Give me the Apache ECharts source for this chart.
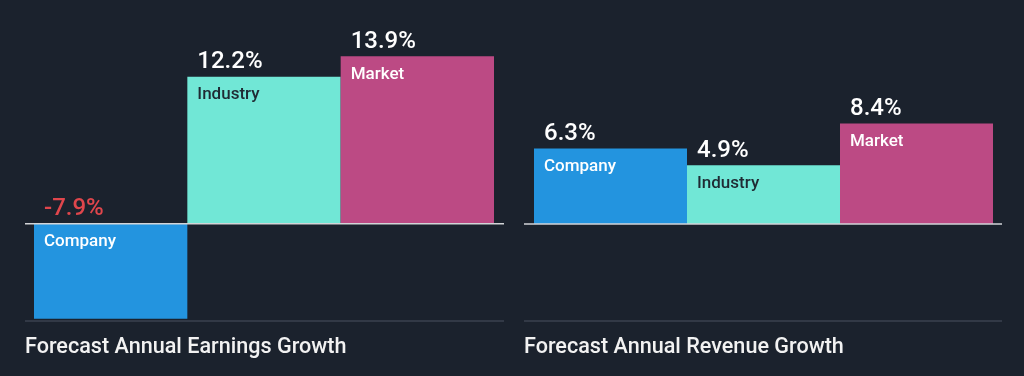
<!DOCTYPE html>
<html>
<head>
<meta charset="utf-8">
<script src="https://cdn.jsdelivr.net/npm/echarts@6/dist/echarts.min.js"></script>
<style>
  html, body { margin: 0; padding: 0; background: #1b222d; }
  #chart { width: 1024px; height: 376px; }
</style>
</head>
<body>
<div id="chart"></div>
<script>
// data
const categories = ["Company", "Industry", "Market"];
const earningsGrowth = [-7.9, 12.2, 13.9];
const revenueGrowth = [6.3, 4.9, 8.4];
const panelTitles = ["Forecast Annual Earnings Growth", "Forecast Annual Revenue Growth"];

const barColors = ["#2394df", "#71e7d6", "#bc4a84"];
const FONT = "Roboto";

function makeData(values) {
  return values.map((v, i) => ({
    value: v,
    itemStyle: { color: barColors[i] },
  }));
}

const labelCfg = {
  show: true,
  position: "insideTopLeft",
  distance: 10,
  offset: [0, -41],
  align: "left",
  formatter: function (p) {
    const valStyle = p.value < 0 ? "neg" : "val";
    const nameStyle = p.name === "Industry" ? "dark" : "light";
    return "{" + valStyle + "|" + p.value.toFixed(1) + "%}\n{" + nameStyle + "|" + p.name + "}";
  },
  rich: {
    val: { fontFamily: FONT, fontSize: 24, fontWeight: 500, color: "#ffffff", lineHeight: 33 },
    neg: { fontFamily: FONT, fontSize: 24, fontWeight: 500, color: "#e0464c", lineHeight: 33 },
    light: { fontFamily: FONT, fontSize: 17, fontWeight: 500, color: "#ffffff", lineHeight: 33 },
    dark: { fontFamily: FONT, fontSize: 17, fontWeight: 500, color: "#1f2a33", lineHeight: 33 },
  },
};

const chart = echarts.init(document.getElementById("chart"), null, { renderer: "canvas" });

const option = {
  backgroundColor: "#1b222d",
  animation: false,
  title: panelTitles.map((t, i) => ({
    text: t,
    left: i === 0 ? 25 : 524,
    top: 337,
    padding: 0,
    textStyle: { fontFamily: FONT, fontSize: 21.6, fontWeight: 500, color: "#f2f2f2" },
  })),
  grid: [
    { left: 34, width: 460, top: 55, bottom: 56 },
    { left: 534, width: 459, top: 54, bottom: 55 },
  ],
  xAxis: [0, 1].map((i) => ({
    type: "category",
    gridIndex: i,
    data: categories,
    show: false,
  })),
  yAxis: [
    { type: "value", gridIndex: 0, min: -8, max: 14, show: false },
    { type: "value", gridIndex: 1, min: -8.1, max: 14.2, show: false },
  ],
  series: [
    {
      type: "bar",
      xAxisIndex: 0,
      yAxisIndex: 0,
      barCategoryGap: 0,
      data: makeData(earningsGrowth),
      label: labelCfg,
    },
    {
      type: "bar",
      xAxisIndex: 1,
      yAxisIndex: 1,
      barCategoryGap: 0,
      data: makeData(revenueGrowth),
      label: labelCfg,
    },
  ],
};

chart.setOption(option);

// zero lines and base lines run a bit wider than the bars
const spans = [[25, 504], [524, 1002]];
const graphics = [];
spans.forEach((s, i) => {
  const y0 = chart.convertToPixel({ yAxisIndex: i }, 0);
  graphics.push({
    type: "line",
    z: 100,
    shape: { x1: s[0], y1: y0, x2: s[1], y2: y0 },
    style: { stroke: "#d3d5d8", lineWidth: 1.5 },
  });
  graphics.push({
    type: "line",
    z: 100,
    shape: { x1: s[0], y1: 321, x2: s[1], y2: 321 },
    style: { stroke: "#3b424f", lineWidth: 1.5 },
  });
});
chart.setOption({ graphic: graphics });
</script>
</body>
</html>
